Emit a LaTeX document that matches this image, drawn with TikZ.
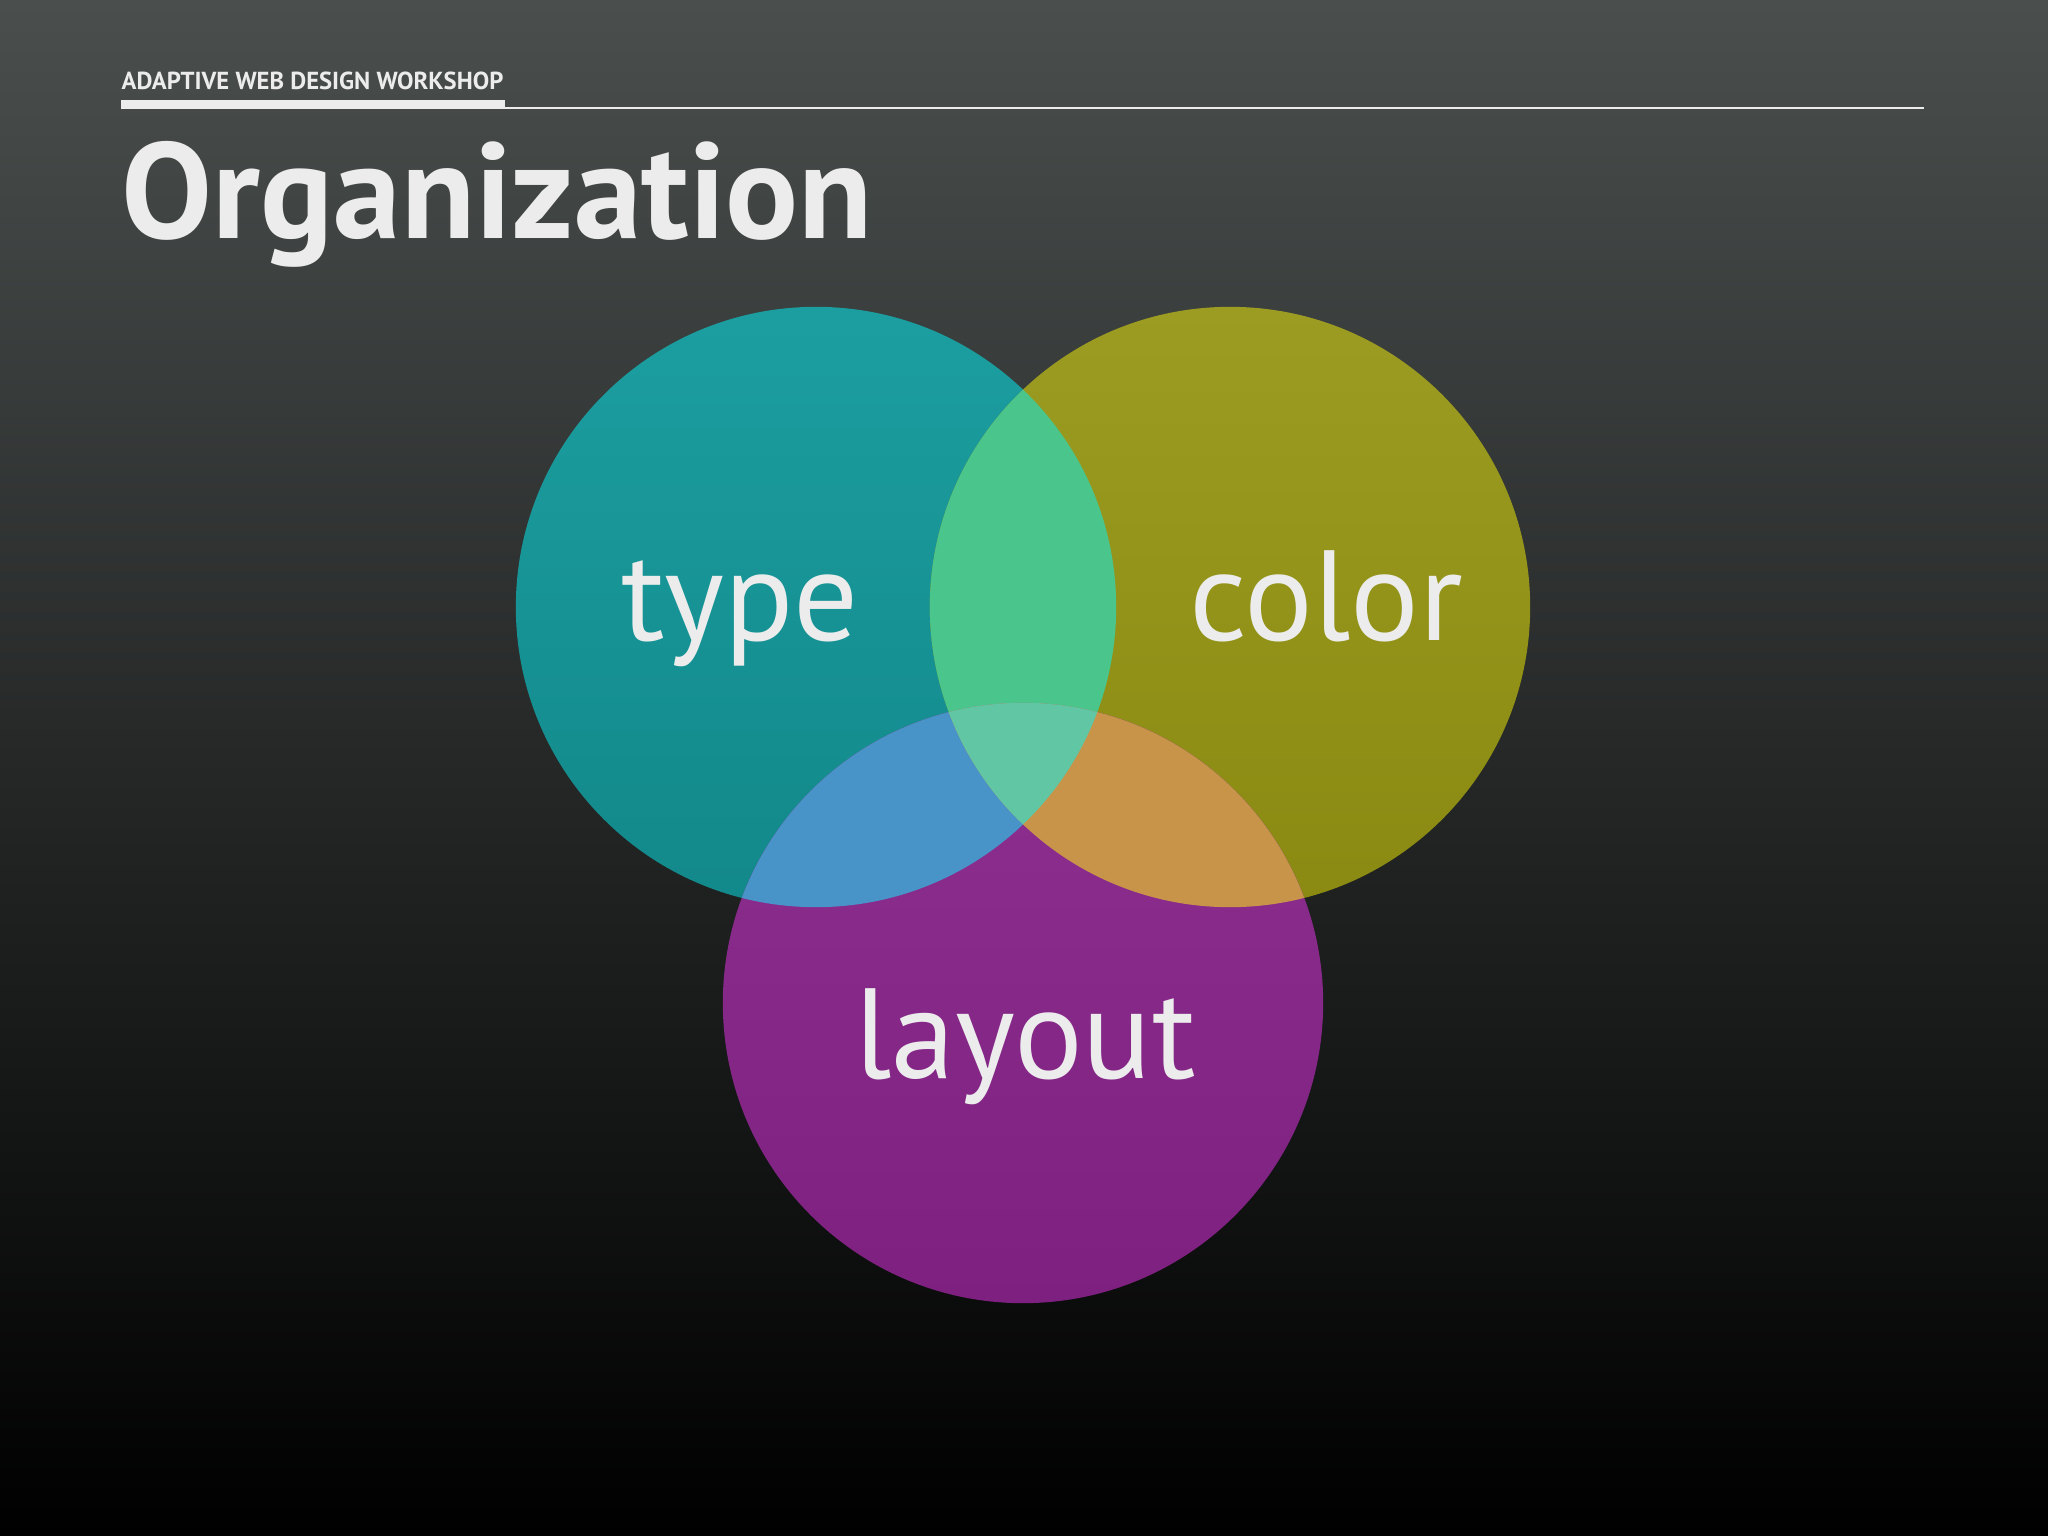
\documentclass[tikz,border=0pt]{standalone}
\usepackage{fontspec}
\setmainfont{PT Sans}
\usepackage{tikz}
\usepackage{xcolor}

\definecolor{bgtop}{HTML}{4A4F4E}
\definecolor{bgmid}{HTML}{1F2221}
\definecolor{slidetext}{HTML}{ECECEC}
\definecolor{typetop}{HTML}{1C9EA0}
\definecolor{typebot}{HTML}{12888A}
\definecolor{colortop}{HTML}{9C9C22}
\definecolor{colorbot}{HTML}{8A8A12}
\definecolor{layouttop}{HTML}{8E3090}
\definecolor{layoutbot}{HTML}{7E2080}
\definecolor{typecolor}{HTML}{4AC68C}
\definecolor{typelayout}{HTML}{4894C8}
\definecolor{colorlayout}{HTML}{C8944A}
\definecolor{allthree}{HTML}{60C6A4}

\begin{document}
\begin{tikzpicture}[x=0.01cm, y=-0.01cm,
  every node/.style = {inner sep=0, text=slidetext},
  ring/.style = {circle, minimum size=6cm, inner sep=0, draw=none},
  word/.style = {anchor=base, font=\fontsize{36.5}{40}\selectfont}]
  \useasboundingbox (0,0) rectangle (2048,1536);
  \shade[top color=bgtop, middle color=bgmid, bottom color=black]
    (0,0) rectangle (2048,1536);

  % header
  \node[anchor=base west, font=\fontsize{7}{8}\selectfont\bfseries]
    (workshop) at (121,89) {ADAPTIVE WEB DESIGN WORKSHOP};
  \fill[slidetext] (121,100) rectangle (505,109);
  \fill[slidetext] (121,107) rectangle (1924,109);
  \node[anchor=base west, font=\fontsize{38.7}{44}\selectfont\bfseries]
    (title) at (121,238) {Organization};

  % circles
  \node[ring, top color=typetop, bottom color=typebot] (type) at (816,607) {};
  \node[ring, top color=colortop, bottom color=colorbot] (color) at (1230,607) {};
  \node[ring, top color=layouttop, bottom color=layoutbot] (layout) at (1023,1003) {};

  % overlaps
  \begin{scope}
    \clip (type.center) circle (3cm);
    \fill[typecolor] (color.center) circle (3cm);
    \fill[typelayout] (layout.center) circle (3cm);
  \end{scope}
  \begin{scope}
    \clip (color.center) circle (3cm);
    \fill[colorlayout] (layout.center) circle (3cm);
    \clip (type.center) circle (3cm);
    \fill[allthree] (layout.center) circle (3cm);
  \end{scope}

  % labels
  \node[word] (typeword) at (740,640) {type};
  \node[word] (colorword) at (1326,640) {color};
  \node[word] (layoutword) at (1025,1078) {layout};
\end{tikzpicture}
\end{document}
